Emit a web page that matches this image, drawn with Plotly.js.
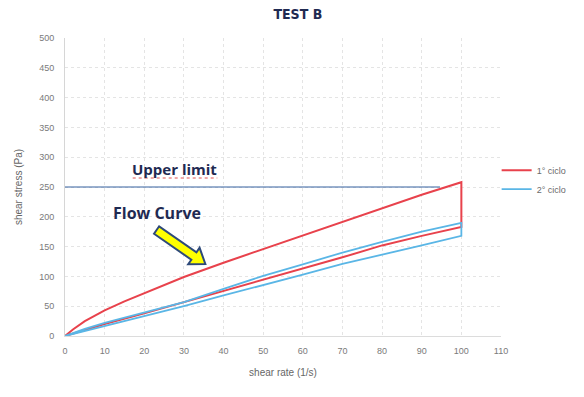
<!DOCTYPE html>
<html>
<head>
<meta charset="utf-8">
<script src="https://cdn.plot.ly/plotly-3.0.1.min.js"></script>
<style>html,body{margin:0;padding:0;background:#fff;}#chart{width:584px;height:397px;}</style>
</head>
<body>
<div id="chart"></div>
<script>
// ---- data ----
var seriesNames = ["1° ciclo", "2° ciclo"];
// 1st cycle: ramp up 0 -> 100 1/s, then ramp down 100 -> 0
var rateCycle1 = [0, 2, 5, 10, 15, 20, 30, 40, 50, 60, 70, 80, 90, 100, 100, 90, 80, 70, 60, 50, 40, 30, 20, 10, 5, 0];
var stressCycle1 = [0, 11, 25, 43, 58, 72, 99, 123, 146, 169, 192, 215, 237, 258, 183, 168, 152, 132, 113, 95, 76, 56, 38, 20, 10, 0];
// 2nd cycle
var rateCycle2 = [0, 5, 10, 20, 30, 40, 50, 60, 70, 80, 90, 100, 100, 90, 80, 70, 60, 50, 40, 30, 20, 10, 5, 0];
var stressCycle2 = [0, 12, 22, 40, 57, 79, 101, 120, 140, 158, 175, 190, 168, 152, 136, 121, 103, 86, 68, 50, 33, 17, 8, 0];
// upper limit reference line
var upperLimitRate = [0, 94.6];
var upperLimitStress = [250, 250];
var xTicks = [0, 10, 20, 30, 40, 50, 60, 70, 80, 90, 100, 110];
var yTicks = [0, 50, 100, 150, 200, 250, 300, 350, 400, 450, 500];

// ---- layout geometry ----
var W = 584, H = 397;
var M = {l: 65, r: 81, t: 38, b: 61};
var pw = W - M.l - M.r, ph = H - M.t - M.b;
function px2paper(px, py) { return [(px - M.l) / pw, (H - M.b - py) / ph]; }

// block arrow (decoration) from tail to tip in pixel space
function blockArrow(tail, tip, shaftHalf, headHalf, headLen) {
  var dx = tip[0] - tail[0], dy = tip[1] - tail[1];
  var L = Math.sqrt(dx * dx + dy * dy);
  var ux = dx / L, uy = dy / L, nx = -uy, ny = ux;
  var nk = [tip[0] - ux * headLen, tip[1] - uy * headLen];
  var pts = [
    [tail[0] + nx * shaftHalf, tail[1] + ny * shaftHalf],
    [nk[0] + nx * shaftHalf, nk[1] + ny * shaftHalf],
    [nk[0] + nx * headHalf, nk[1] + ny * headHalf],
    tip,
    [nk[0] - nx * headHalf, nk[1] - ny * headHalf],
    [nk[0] - nx * shaftHalf, nk[1] - ny * shaftHalf],
    [tail[0] - nx * shaftHalf, tail[1] - ny * shaftHalf]
  ];
  var d = pts.map(function (p, i) { var q = px2paper(p[0], p[1]); return (i ? "L" : "M") + q[0].toFixed(4) + "," + q[1].toFixed(4); }).join(" ") + " Z";
  return d;
}

var tickFont = {family: "Liberation Sans, Arial, sans-serif", size: 9, color: "#7a7a7a"};

var traces = [
  {x: rateCycle1, y: stressCycle1, name: seriesNames[0], type: "scatter", mode: "lines",
   line: {color: "#e8424c", width: 2}},
  {x: rateCycle2, y: stressCycle2, name: seriesNames[1], type: "scatter", mode: "lines",
   line: {color: "#5ab6e6", width: 1.8}},
  {x: upperLimitRate, y: upperLimitStress, name: "Upper limit", type: "scatter", mode: "lines",
   showlegend: false, hoverinfo: "skip", line: {color: "#35609f", width: 1}}
];

var ulA = px2paper(133, 178), ulB = px2paper(218, 178);

var layout = {
  width: W, height: H,
  margin: M,
  paper_bgcolor: "#ffffff", plot_bgcolor: "#ffffff",
  title: {text: "<b>TEST B</b>", x: 0.51, xref: "container", y: 0.965, yanchor: "middle",
          font: {family: "DejaVu Sans Condensed, Liberation Sans Narrow, sans-serif", size: 14, color: "#1f2a52"}},
  xaxis: {range: [0, 110], tickvals: xTicks, ticktext: xTicks.map(String), showgrid: true,
          gridcolor: "#e4e4e4", griddash: "dot", gridwidth: 1, zeroline: false,
          showline: true, linecolor: "#dcdcdc", linewidth: 1,
          tickfont: tickFont, ticks: "", ticklabelstandoff: 6,
          title: {text: "shear rate (1/s)", font: {family: "Liberation Sans, Arial, sans-serif", size: 10, color: "#666666"}, standoff: 14}},
  yaxis: {range: [0, 500], tickvals: yTicks, ticktext: yTicks.map(String), showgrid: true,
          gridcolor: "#e4e4e4", griddash: "dot", gridwidth: 1, zeroline: false,
          showline: true, linecolor: "#d6d6d6", linewidth: 1,
          tickfont: tickFont, ticks: "", ticklabelstandoff: 8,
          title: {text: "shear stress (Pa)", font: {family: "Liberation Sans, Arial, sans-serif", size: 10, color: "#666666"}, standoff: 14}},
  legend: {x: 0.99, xanchor: "left", y: 0.605, yanchor: "top", bgcolor: "rgba(0,0,0,0)",
           font: {family: "Liberation Sans, Arial, sans-serif", size: 9, color: "#6a6a6a"},
           tracegroupgap: 0, itemwidth: 30},
  showlegend: true,
  annotations: [
    {x: 27.6, y: 280, xref: "x", yref: "y", text: "<b>Upper limit</b>", showarrow: false,
     font: {family: "Open Sans, DejaVu Sans, sans-serif", size: 15, color: "#1f2a52"}},
    {x: 23.2, y: 207, xref: "x", yref: "y", text: "<b>Flow Curve</b>", showarrow: false,
     font: {family: "Open Sans, DejaVu Sans, sans-serif", size: 16, color: "#1f2a52"}}
  ],
  shapes: [
    {type: "line", xref: "paper", yref: "paper", x0: ulA[0], y0: ulA[1], x1: ulB[0], y1: ulB[1],
     line: {color: "#e05050", width: 1, dash: "dot"}},
    {type: "path", xref: "paper", yref: "paper", path: blockArrow([157, 230], [206, 264], 4.5, 10, 14),
     fillcolor: "#ffff00", line: {color: "#2e4a7a", width: 2}}
  ]
};

Plotly.newPlot("chart", traces, layout, {displayModeBar: false, staticPlot: true});
</script>
</body>
</html>
